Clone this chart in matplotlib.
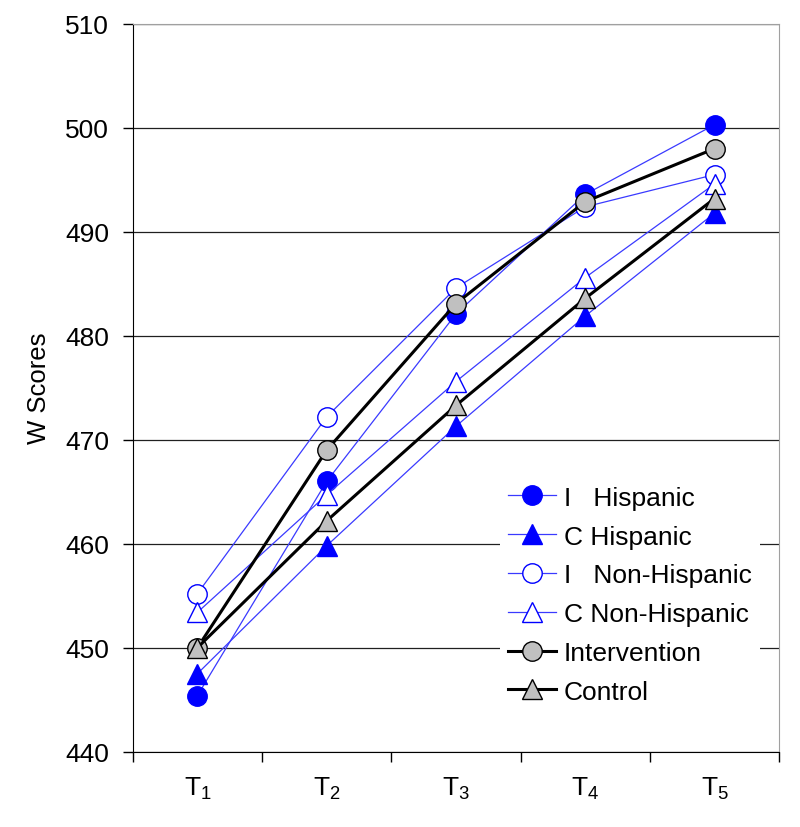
import matplotlib
matplotlib.use('Agg')
import matplotlib.pyplot as plt
import numpy as np

plt.rcParams['font.family'] = ['Liberation Sans', 'DejaVu Sans']
plt.rcParams['mathtext.fontset'] = 'custom'
plt.rcParams['mathtext.rm'] = 'Liberation Sans'
plt.rcParams['mathtext.it'] = 'Liberation Sans'

# data
time_labels = [r'T$_{\mathrm{1}}$', r'T$_{\mathrm{2}}$', r'T$_{\mathrm{3}}$',
               r'T$_{\mathrm{4}}$', r'T$_{\mathrm{5}}$']
i_hispanic = [445.4, 466.0, 482.1, 493.6, 500.3]
c_hispanic = [447.5, 459.8, 471.3, 481.9, 491.8]
i_non_hispanic = [455.2, 472.2, 484.6, 492.4, 495.5]
c_non_hispanic = [453.4, 464.7, 475.6, 485.6, 494.6]
intervention = [450.0, 469.0, 483.1, 492.9, 498.0]
control = [450.0, 462.2, 473.3, 483.6, 493.2]
y_ticks = [440, 450, 460, 470, 480, 490, 500, 510]

fig = plt.figure(figsize=(8, 8.28), dpi=100)
ax = fig.add_axes([0.166, 0.091, 0.808, 0.879])

x = np.arange(len(time_labels))
blue_line = '#3a3aff'
blue = '#0000ff'
gray = '#c0c0c0'
ms = 14

ax.plot(x, i_hispanic, color=blue_line, lw=0.9, marker='o', ms=ms,
        mfc=blue, mec=blue, label='I   Hispanic')
ax.plot(x, c_hispanic, color=blue_line, lw=0.9, marker='^', ms=ms,
        mfc=blue, mec=blue, label='C Hispanic')
ax.plot(x, i_non_hispanic, color=blue_line, lw=0.9, marker='o', ms=ms,
        mfc='white', mec=blue, mew=1, label='I   Non-Hispanic')
ax.plot(x, c_non_hispanic, color=blue_line, lw=0.9, marker='^', ms=ms,
        mfc='white', mec=blue, mew=1, label='C Non-Hispanic')
ax.plot(x, intervention, color='black', lw=2.2, marker='o', ms=ms,
        mfc=gray, mec='black', mew=1, label='Intervention')
ax.plot(x, control, color='black', lw=2.2, marker='^', ms=ms,
        mfc=gray, mec='black', mew=1, label='Control')

ax.set_xlim(-0.5, len(time_labels) - 0.5)
ax.set_ylim(440, 510)
ax.set_yticks(y_ticks)
ax.set_yticklabels([str(v) for v in y_ticks], fontsize=19)
ax.yaxis.grid(True, color='#202020', lw=0.9)
ax.set_axisbelow(True)

# excel style: ticks between categories, labels at centres
ax.set_xticks(np.arange(-0.5, len(time_labels), 1.0))
ax.set_xticklabels([])
ax.set_xticks(x, minor=True)
ax.set_xticklabels(time_labels, minor=True, fontsize=19)
ax.tick_params(axis='x', which='minor', length=0, pad=17)
ax.tick_params(axis='x', which='major', direction='out', length=7, width=1)
ax.tick_params(axis='y', direction='out', length=7, width=1, pad=10)

ax.spines['top'].set_color('#a0a0a0')
ax.spines['right'].set_color('#a0a0a0')
ax.spines['left'].set_color('black')
ax.spines['bottom'].set_color('black')

ax.set_ylabel('W Scores', fontsize=18.5, labelpad=10)

leg = ax.legend(loc='lower right', bbox_to_anchor=(0.99, 0.037), fontsize=19,
                frameon=True, fancybox=False, edgecolor='none', facecolor='white',
                framealpha=1, handlelength=1.8, handletextpad=0.3, labelspacing=0.56,
                borderpad=0.3)

fig.savefig('out.png', dpi=100)
